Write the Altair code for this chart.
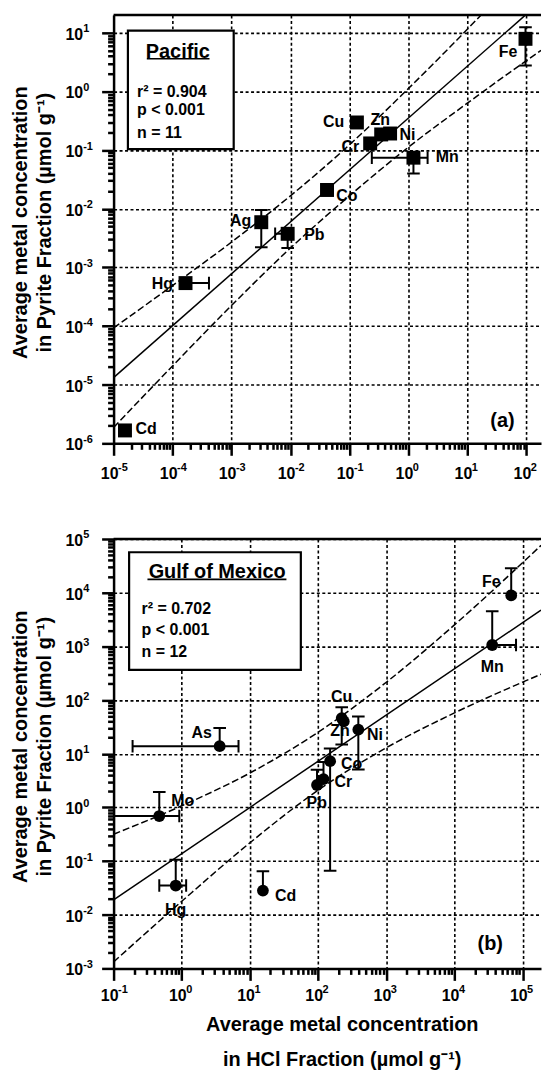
import math
import altair as alt
import pandas as pd

FONT = "Liberation Sans"

# ---------------- Panel (a): Pacific ----------------
pac_metals = ["Cd", "Hg", "Ag", "Pb", "Co", "Cr", "Cu", "Zn", "Ni", "Mn", "Fe"]
pac_hcl = [1.56e-5, 1.66e-4, 3.2e-3, 8.97e-3, 0.0417, 0.225, 0.134, 0.346, 0.49, 1.22, 97.0]
pac_pyrite = [1.66e-6, 5.4e-4, 5.9e-3, 3.74e-3, 0.0209, 0.130, 0.296, 0.185, 0.192, 0.0743, 7.9]
pac_x_lo = [None, None, None, 5.5e-3, None, None, None, None, None, 0.24, None]
pac_x_hi = [None, 4.15e-4, None, None, None, None, None, None, None, 2.12, None]
pac_y_lo = [None, None, 2.2e-3, 2.14e-3, None, None, None, None, None, 0.040, 2.78]
pac_y_hi = [None, None, 9.5e-3, None, None, None, None, None, None, None, 12.5]
pac_label_x = [3.56e-5, 6.7e-5, 1.43e-3, 0.0254, 0.091, 0.1035, 0.054, 0.333, 0.97, 4.56, 48.9]
pac_label_y = [1.75e-6, 5.2e-4, 6.1e-3, 3.5e-3, 0.0165, 0.114, 0.296, 0.324, 0.18, 0.075, 4.7]

pac_fit_x = [1e-5, 97.3]
pac_fit_y = [1.32e-5, 20.2]
pac_upper_x = [1e-5, 1e-4, 1e-3, 1e-2, 0.1, 1.0, 10.0, 20.0]
pac_upper_y = [9.3e-5, 4.9e-4, 2.7e-3, 0.0166, 0.123, 1.12, 11.5, 23.7]
pac_lower_x = [1e-5, 1e-4, 1e-3, 1e-2, 0.1, 1.0, 10.0, 50.0, 178.0]
pac_lower_y = [1.86e-6, 2.09e-5, 2.24e-4, 2.14e-3, 0.0166, 0.112, 0.631, 2.04, 5.0]

pac_box = [1.75e-5, 1.09e-3, 10.9, 0.104]          # x1, x2, y1, y2 (data units)
pac_title = ["Pacific", 1.23e-4, 4.7]
pac_underline = [3.66e-5, 4.24e-4, 3.61]
pac_stats = ["r² = 0.904", "p < 0.001", "n = 11"]
pac_stats_x = 2.5e-5
pac_stats_y = [0.98, 0.479, 0.192]
pac_tag = ["(a)", 39.4, 2.43e-6]

pac_xdom = [1e-5, 177.8]
pac_ydom = [1e-6, 20.2]
pac_x_exp = ["-5", "-4", "-3", "-2", "-1", "0", "1", "2"]      # tick labels 10^e
pac_y_exp = ["-6", "-5", "-4", "-3", "-2", "-1", "0", "1"]

# ---------------- Panel (b): Gulf of Mexico ----------------
gulf_metals = ["Fe", "Mn", "Cu", "Zn", "Ni", "Co", "Cr", "Pb", "As", "Mo", "Hg", "Cd"]
gulf_hcl = [6.8e4, 3.58e4, 222, 238, 389, 150, 120, 96.4, 3.6, 0.468, 0.816, 15.5]
gulf_pyrite = [8.9e3, 1.06e3, 46, 40, 28.1, 7.26, 3.37, 2.61, 13.8, 0.69, 0.035, 0.0282]
gulf_x_lo = [None, None, None, None, None, None, None, None, 0.19, 0.02, 0.468, None]
gulf_x_hi = [None, 8.0e4, None, None, None, None, None, None, 6.8, 0.92, 1.16, None]
gulf_y_lo = [None, None, 14.8, None, 5.1, 0.066, None, None, None, None, None, None]
gulf_y_hi = [2.86e4, 4.5e3, 73, None, 49.5, 12.5, 7.0, 5.0, 30, 1.93, 0.106, 0.0646]
gulf_label_x = [3.46e4, 3.58e4, 222, 210, 684, 310, 235, 95.7, 1.96, 1.03, 0.816, 33.4]
gulf_label_y = [1.57e4, 419, 116, 26.1, 22.7, 6.3, 3.0, 1.22, 24.3, 1.31, 0.012, 0.0222]

gulf_fit_x = [0.1, 1.86e5]
gulf_fit_y = [0.019, 4710]
gulf_upper_x = [0.1, 1.0, 10.0, 100.0, 1000.0, 1e4, 1.86e5]
gulf_upper_y = [0.316, 1.07, 4.37, 25.1, 214, 2512, 7.59e4]
gulf_lower_x = [0.1, 1.0, 10.0, 100.0, 1000.0, 1e4, 1.86e5]
gulf_lower_y = [1.32e-3, 0.0178, 0.219, 2.09, 12.9, 57.5, 302]

gulf_box = [0.169, 55.8, 5.66e4, 364]
gulf_title = ["Gulf of Mexico", 3.31, 2.42e4]
gulf_underline = [0.314, 34.3, 1.77e4]
gulf_stats = ["r² = 0.702", "p < 0.001", "n = 12"]
gulf_stats_x = 0.257
gulf_stats_y = [5.05e3, 2.0e3, 794]
gulf_tag = ["(b)", 3.35e4, 2.9e-3]

gulf_xdom = [0.1, 1.86e5]
gulf_ydom = [1e-3, 1e5]
gulf_x_exp = ["-1", "0", "1", "2", "3", "4", "5"]
gulf_y_exp = ["-3", "-2", "-1", "0", "1", "2", "3", "4", "5"]

Y_TITLE = ["Average metal concentration", "in Pyrite Fraction (µmol g⁻¹)"]
X_TITLE = ["Average metal concentration", "in HCl Fraction (µmol g⁻¹)"]

DEC = "abs(log(datum.value)/LN10 - round(log(datum.value)/LN10)) < 0.001"


def log_ticks(exps):
    lo, hi = int(exps[0]), int(exps[-1])
    vals = []
    for e in range(lo, hi + 1):
        for m in range(1, 10):
            if e == hi and m > 1:
                break
            vals.append(float(f"{m * 10.0 ** e:.6g}"))
    return vals


def make_axis(values, title=None, **kw):
    args = dict(
        values=values, labelExpr=f"({DEC}) ? '10' : ''", labelOverlap=False,
        labelFlush=False, labelBound=False,
        tickSize={"condition": {"test": DEC, "value": 12}, "value": 6},
        tickWidth=2.5, tickColor="black", domainColor="black", domainWidth=2.5,
        grid=True, gridColor="black", gridDash=[3, 2.5], gridWidth=1.6,
        gridOpacity={"condition": {"test": DEC, "value": 1}, "value": 0},
        labelFont=FONT, labelFontSize=16, labelFontWeight="bold", labelColor="black",
        titleFont=FONT, titleFontSize=20, titleFontWeight="bold", titleColor="black",
        title=title if title is not None else "",
    )
    args.update(kw)
    return alt.Axis(**args)


def panel(metals, hx, py, xlo, xhi, ylo, yhi, lx, ly, fx, fy, ux, uy, lwx, lwy,
          box, ttl, uline, stats, sx, sy, tag, xdom, ydom, xexp, yexp,
          shape, size, xtitle, H, xlab_pad):
    W = 429
    xs = alt.Scale(type="log", domain=xdom, nice=False)
    ys = alt.Scale(type="log", domain=ydom, nice=False)
    xvals = log_ticks(xexp)
    yvals = log_ticks(yexp)
    xkw = dict(labelPadding=xlab_pad, labelAlign="right", labelOffset=4.5)
    if xtitle:
        xaxis = make_axis(xvals, title=xtitle, titleLineHeight=35, titleBaseline="alphabetic",
                          titleX=229, titleY=62, titleAnchor="start", titleAlign="center", **xkw)
    else:
        xaxis = make_axis(xvals, **xkw)
    yaxis = make_axis(yvals, title=Y_TITLE, labelPadding=19, labelOffset=1.5,
                      titleLineHeight=24, titleAngle=270, titleBaseline="top",
                      titleAlign="center", titleX=-103, titleY=208, titleAnchor="start")

    def X(f="x"):
        return alt.X(f"{f}:Q", scale=xs, axis=xaxis)

    def Y(f="y"):
        return alt.Y(f"{f}:Q", scale=ys, axis=yaxis)

    pts = pd.DataFrame({"metal": metals, "x": hx, "y": py})
    labs = pd.DataFrame({"metal": metals, "x": lx, "y": ly})

    segs, hcaps, vcaps = [], [], []
    for i in range(len(metals)):
        if xlo[i] is not None or xhi[i] is not None:
            a = xlo[i] if xlo[i] is not None else hx[i]
            b = xhi[i] if xhi[i] is not None else hx[i]
            segs.append({"x": a, "x2": b, "y": py[i], "y2": py[i]})
            for e in (xlo[i], xhi[i]):
                if e is not None:
                    vcaps.append({"x": e, "y": py[i]})
        if ylo[i] is not None or yhi[i] is not None:
            a = ylo[i] if ylo[i] is not None else py[i]
            b = yhi[i] if yhi[i] is not None else py[i]
            segs.append({"x": hx[i], "x2": hx[i], "y": a, "y2": b})
            for e in (ylo[i], yhi[i]):
                if e is not None:
                    hcaps.append({"x": hx[i], "y": e})

    lines = pd.DataFrame(
        [{"k": "fit", "o": j, "x": a, "y": b} for j, (a, b) in enumerate(zip(fx, fy))]
    )
    bands = pd.DataFrame(
        [{"k": "up", "o": j, "x": a, "y": b} for j, (a, b) in enumerate(zip(ux, uy))]
        + [{"k": "lo", "o": j, "x": a, "y": b} for j, (a, b) in enumerate(zip(lwx, lwy))]
    )
    xexp_df = pd.DataFrame({"x": [10.0 ** int(e) for e in xexp], "t": xexp})
    yexp_df = pd.DataFrame({"y": [10.0 ** int(e) for e in yexp], "t": yexp})

    layers = []
    layers.append(
        alt.Chart(pd.DataFrame([{"x": box[0], "x2": box[1], "y": box[2], "y2": box[3]}]))
        .mark_rect(fill="white", stroke="black", strokeWidth=2.2)
        .encode(x=X(), x2="x2:Q", y=Y(), y2="y2:Q")
    )
    layers.append(
        alt.Chart(lines).mark_line(color="black", strokeWidth=1.5, clip=True)
        .encode(x=X(), y=Y(), order="o:Q")
    )
    layers.append(
        alt.Chart(bands).mark_line(color="black", strokeWidth=1.5, strokeDash=[7, 3],
                                   interpolate="monotone", clip=True)
        .encode(x=X(), y=Y(), detail="k:N", order="o:Q")
    )
    layers.append(
        alt.Chart(pd.DataFrame(segs)).mark_rule(color="black", strokeWidth=2, clip=True)
        .encode(x=X(), x2="x2:Q", y=Y(), y2="y2:Q")
    )
    if hcaps:
        layers.append(
            alt.Chart(pd.DataFrame(hcaps)).mark_point(shape="M-1,0L1,0", filled=False, size=160,
                                                      strokeWidth=2, color="black", opacity=1, clip=True)
            .encode(x=X(), y=Y())
        )
    if vcaps:
        layers.append(
            alt.Chart(pd.DataFrame(vcaps)).mark_point(shape="M0,-1L0,1", filled=False, size=160,
                                                      strokeWidth=2, color="black", opacity=1, clip=True)
            .encode(x=X(), y=Y())
        )
    layers.append(
        alt.Chart(pts).mark_point(shape=shape, filled=True, size=size, color="black", opacity=1)
        .encode(x=X(), y=Y())
    )
    layers.append(
        alt.Chart(labs).mark_text(font=FONT, fontSize=16, fontWeight="bold", color="black",
                                  align="center", baseline="middle")
        .encode(x=X(), y=Y(), text="metal:N")
    )
    layers.append(
        alt.Chart(pd.DataFrame([{"t": ttl[0], "x": ttl[1], "y": ttl[2]}]))
        .mark_text(font=FONT, fontSize=20, fontWeight="bold", color="black",
                   align="center", baseline="middle")
        .encode(x=X(), y=Y(), text="t:N")
    )
    layers.append(
        alt.Chart(pd.DataFrame([{"x": uline[0], "x2": uline[1], "y": uline[2]}]))
        .mark_rule(color="black", strokeWidth=1.6)
        .encode(x=X(), x2="x2:Q", y=Y())
    )
    layers.append(
        alt.Chart(pd.DataFrame({"t": stats, "x": [sx] * len(stats), "y": sy}))
        .mark_text(font=FONT, fontSize=16, fontWeight="bold", color="black",
                   align="left", baseline="middle")
        .encode(x=X(), y=Y(), text="t:N")
    )
    layers.append(
        alt.Chart(pd.DataFrame([{"t": tag[0], "x": tag[1], "y": tag[2]}]))
        .mark_text(font=FONT, fontSize=20, fontWeight="bold", color="black",
                   align="center", baseline="middle")
        .encode(x=X(), y=Y(), text="t:N")
    )
    # exponents of the tick labels (superscripts)
    layers.append(
        alt.Chart(xexp_df).mark_text(font=FONT, fontSize=11, fontWeight="bold", color="black",
                                     align="left", baseline="middle", dx=4.5)
        .encode(x=X(), y=alt.value(H + xlab_pad + 15), text="t:N")
    )
    layers.append(
        alt.Chart(yexp_df).mark_text(font=FONT, fontSize=11, fontWeight="bold", color="black",
                                     align="left", baseline="middle", dy=-3.5)
        .encode(y=Y(), x=alt.value(-30.5), text="t:N")
    )
    layers.append(
        alt.Chart(pd.DataFrame([{"a": 0}]))
        .mark_rule(color="black", strokeWidth=2.5)
        .encode(x=alt.value(0), x2=alt.value(W), y=alt.value(0))
    )
    return alt.layer(*layers).properties(width=W, height=H)


top = panel(pac_metals, pac_hcl, pac_pyrite, pac_x_lo, pac_x_hi, pac_y_lo, pac_y_hi,
            pac_label_x, pac_label_y, pac_fit_x, pac_fit_y, pac_upper_x, pac_upper_y,
            pac_lower_x, pac_lower_y, pac_box, pac_title, pac_underline, pac_stats,
            pac_stats_x, pac_stats_y, pac_tag, pac_xdom, pac_ydom, pac_x_exp, pac_y_exp,
            "square", 196, None, 430, 10)
bottom = panel(gulf_metals, gulf_hcl, gulf_pyrite, gulf_x_lo, gulf_x_hi, gulf_y_lo, gulf_y_hi,
               gulf_label_x, gulf_label_y, gulf_fit_x, gulf_fit_y, gulf_upper_x, gulf_upper_y,
               gulf_lower_x, gulf_lower_y, gulf_box, gulf_title, gulf_underline, gulf_stats,
               gulf_stats_x, gulf_stats_y, gulf_tag, gulf_xdom, gulf_ydom, gulf_x_exp, gulf_y_exp,
               "circle", 140, X_TITLE, 431, 7)

chart = (
    alt.vconcat(top, bottom, spacing=96, bounds="flush")
    .properties(padding={"left": 11, "top": 11, "right": 0, "bottom": 0},
                autosize=alt.AutoSizeParams(type="pad"), background="white")
    .configure_view(stroke=None)
)

chart.save("out.html", embed_options={"renderer": "svg", "actions": False})
